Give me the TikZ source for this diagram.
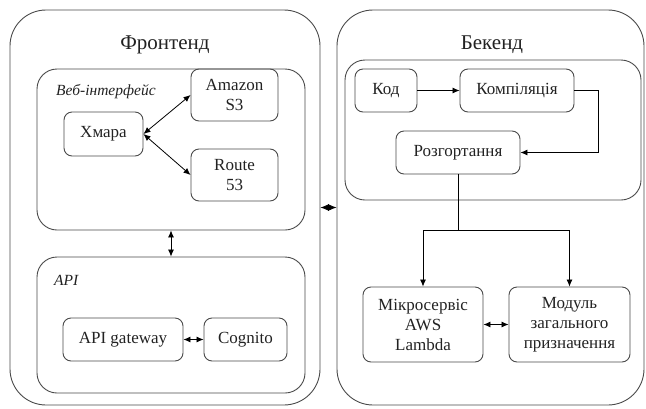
\documentclass[tikz,border=0pt]{standalone}
\usepackage{fontspec}
\setmainfont{Liberation Serif}
\usetikzlibrary{arrows.meta,calc}
\definecolor{edge}{HTML}{4A4A4A}
\definecolor{ink}{HTML}{222222}
\tikzset{
  box/.style={draw=edge, line width=0.9pt, rounded corners=8pt, align=center, text=ink,
    font=\rmfamily\fontsize{17}{20}\selectfont, inner sep=0pt},
  group/.style={draw=edge, line width=0.9pt, rounded corners=20pt},
  outer/.style={draw=edge, line width=0.9pt, rounded corners=36pt},
  title/.style={text=ink, font=\rmfamily\fontsize{21}{24}\selectfont},
  glabel/.style={text=ink, anchor=west, font=\rmfamily\itshape\fontsize{15.5}{18}\selectfont, inner sep=0pt},
  conn/.style={draw=black, line width=0.8pt},
  tip/.style={arrows={-Latex[length=7pt,width=6pt]}},
  tips/.style={arrows={Latex[length=7pt,width=6pt]-Latex[length=7pt,width=6pt]}},
}
\begin{document}
\begin{tikzpicture}[x=1pt,y=-1pt]
\useasboundingbox (0,0) rectangle (646,408);
% Frontend
\node[outer, minimum width=310pt, minimum height=395pt] (front) at (165,207.5) {};
\node[title] (fronttitle) at (165,45) {Фронтенд};
\node[group, minimum width=268pt, minimum height=161pt] (web) at (171,149.5) {};
\node[glabel] (weblabel) at (56,92) {Веб-інтерфейс};
\node[box, minimum width=79pt, minimum height=44pt] (khmara) at (103.5,134) {Хмара};
\node[box, minimum width=87pt, minimum height=52pt] (amazon) at (234.5,95) {Amazon\\S3};
\node[box, minimum width=87pt, minimum height=52pt] (route) at (234.5,175) {Route\\53};
\node[group, minimum width=268pt, minimum height=136pt] (api) at (171,325) {};
\node[glabel] (apilabel) at (54,280) {API};
\node[box, minimum width=120pt, minimum height=43pt] (gw) at (123,339.5) {API gateway};
\node[box, minimum width=83pt, minimum height=43pt] (cognito) at (245.5,339.5) {Cognito};
% Backend
\node[outer, minimum width=307pt, minimum height=395pt] (back) at (490.5,207.5) {};
\node[title] (backtitle) at (492,45) {Бекенд};
\node[group, minimum width=296pt, minimum height=140pt] (pipe) at (493,130) {};
\node[box, minimum width=62pt, minimum height=43pt] (kod) at (386,90.5) {Код};
\node[box, minimum width=114pt, minimum height=43pt] (komp) at (517,90.5) {Компіляція};
\node[box, minimum width=124pt, minimum height=43pt] (rozg) at (458,152.5) {Розгортання};
\node[box, minimum width=120pt, minimum height=75pt] (mikro) at (423,324.5) {Мікросервіс\\AWS\\Lambda};
\node[box, minimum width=121pt, minimum height=75pt] (modul) at (569.5,324.5) {Модуль\\загального\\призначення};
\coordinate (split) at (458,230);
\coordinate (bend) at (598,90.5);
% connectors
\draw[conn, tips] (khmara.east) -- (amazon.west);
\draw[conn, tips] (khmara.east) -- (route.west);
\draw[conn, tips] (web.south) -- (api.north);
\draw[conn, tips] (gw.east) -- (cognito.west);
\draw[conn, arrows={Latex[length=8.5pt,width=7pt]-Latex[length=8.5pt,width=7pt]}] (front.east) -- (back.west);
\draw[conn, tip] (kod.east) -- (komp.west);
\draw[conn, tip] (komp.east) -- (bend) |- (rozg.east);
\draw[conn] (rozg.south) -- (split);
\draw[conn, tip] (split) -| (mikro.north);
\draw[conn, tip] (split) -| (modul.north);
\draw[conn, tips] (mikro.east) -- (modul.west);
\end{tikzpicture}
\end{document}
